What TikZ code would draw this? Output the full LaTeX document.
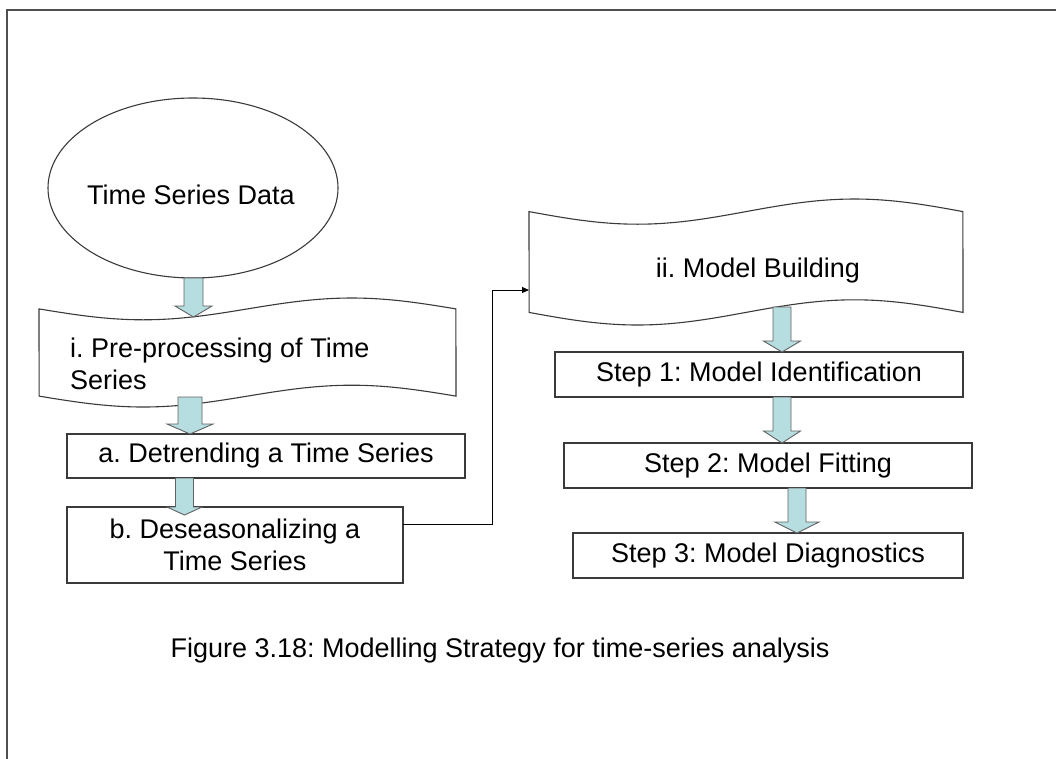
\documentclass[tikz,border=0pt]{standalone}
\usepackage{fontspec}
\setmainfont{Liberation Sans}
\usetikzlibrary{arrows.meta,shapes.geometric}
\frenchspacing

% Punched-tape outline with wavy top and bottom: #1 left, #2 top, #3 width, #4 height
\newcommand{\tapeoutline}[4]{%
  \pgfmathsetmacro{\tpL}{#1}%
  \pgfmathsetmacro{\tpT}{#2}%
  \pgfmathsetmacro{\tpB}{#2+#4}%
  \pgfmathsetmacro{\tpw}{#3}%
  \pgfmathsetmacro{\tpd}{#4/10}%
  \draw[tape]
    plot[domain=0:1, samples=61] ({\tpL+\tpw*\x},{\tpT+\tpd+\tpd*sin(360*\x)})
    -- plot[domain=1:0, samples=61] ({\tpL+\tpw*\x},{\tpB-\tpd+\tpd*sin(360*\x)})
    -- cycle;%
}

% Downward block arrow: #1 centre x, #2 top, #3 head start, #4 tip, #5 half shaft, #6 half head
\newcommand{\downblock}[6]{%
  \draw[blockarrow]
    (#1-#5,#2) -- (#1-#5,#3) -- (#1-#6,#3) -- (#1,#4)
    -- (#1+#6,#3) -- (#1+#5,#3) -- (#1+#5,#2) -- cycle;%
}

\definecolor{framegray}{HTML}{505050}
\definecolor{edgegray}{HTML}{3A3A3A}
\definecolor{arrowfill}{HTML}{B6DEE1}

\tikzset{
  txt/.style={font=\fontsize{27}{32}\selectfont, inner sep=0pt},
  tape/.style={draw=edgegray, line width=1.1pt, fill=white, line join=miter},
  stepbox/.style={draw=edgegray, line width=1.1pt, fill=white, rectangle,
    inner sep=0pt, font=\fontsize{27}{32}\selectfont, align=center},
  blockarrow/.style={draw=edgegray!80, line width=0.9pt, fill=arrowfill},
  conn/.style={draw=black, line width=1pt, -{Triangle[length=7pt,width=6pt]}},
}

\begin{document}
\begin{tikzpicture}[x=1pt, y=-1pt]
  \useasboundingbox (0,0) rectangle (1056,758);

  % outer frame (top and left edges)
  \draw[framegray, line width=2pt] (7,759) -- (7,10) -- (1057,10);

  % source data
  \node[draw=edgegray, line width=1.1pt, ellipse, minimum width=290pt, minimum height=180pt,
        inner sep=0pt] (data) at (193,188) {};
  \node[txt] (datatxt) at (191,195) {Time Series Data};

  % i. pre-processing
  \tapeoutline{39}{298}{417}{109}
  \node[txt, anchor=west, align=left] (prep) at (70,364) {i. Pre-processing of Time\\Series};

  % a. and b.
  \node[stepbox, minimum width=398pt, minimum height=44pt] (detrend) at (266,456)
    {a. Detrending a Time Series};
  \node[stepbox, minimum width=336pt, minimum height=76pt] (deseas) at (235,545)
    {b. Deseasonalizing a\\Time Series};

  % ii. model building
  \tapeoutline{529}{199}{434}{126}
  \node[txt] (build) at (758,271) {ii. Model Building};
  \coordinate (buildin) at (529,290);

  % model-building steps
  \node[stepbox, minimum width=408pt, minimum height=45pt] (ident) at (759,374.5)
    {Step 1: Model Identification};
  \node[stepbox, minimum width=408pt, minimum height=45pt] (fit) at (768,465.5)
    {Step 2: Model Fitting};
  \node[stepbox, minimum width=390pt, minimum height=45pt] (diag) at (768,555.5)
    {Step 3: Model Diagnostics};

  % block arrows between stages
  \downblock{193.5}{278}{306}{317}{9.5}{18.5}
  \downblock{190}{397}{424}{434}{12}{23}
  \downblock{184.5}{478}{507}{515}{9}{17.5}
  \downblock{782}{307}{341}{352}{9}{18.5}
  \downblock{782}{397}{431}{443}{9}{18.5}
  \downblock{797}{488}{522}{533}{9}{22}

  % elbow connector from b. to model building
  \coordinate (deseasout) at (403,524);
  \coordinate (bend) at (492,524);
  \draw[conn] (deseasout) -- (bend) |- (buildin);

  % caption
  \node[txt] (caption) at (500,651) {Figure 3.18: Modelling Strategy for time-series analysis};
\end{tikzpicture}
\end{document}
